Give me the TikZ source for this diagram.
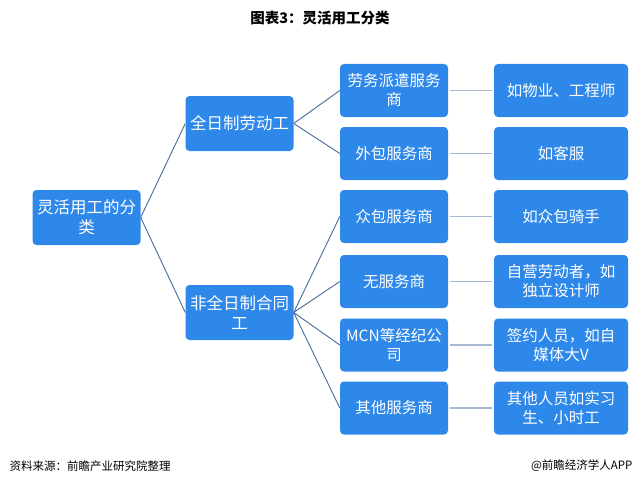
\documentclass[tikz,border=0pt]{standalone}
\usepackage{fontspec}
\setmainfont{Noto Sans CJK SC}
\definecolor{boxblue}{HTML}{2E88EA}
\definecolor{linedark}{HTML}{4A6A9A}
\definecolor{linelight}{HTML}{A8B8D0}
\tikzset{
  bx/.style={draw=none,fill=boxblue,rounded corners=4pt,text=white,align=center,font=\fontsize{15.5}{19}\selectfont,inner sep=2pt},
  b1/.style={bx,minimum width=107pt,minimum height=55pt,text width=104pt,font=\fontsize{16.5}{20}\selectfont},
  b3/.style={bx,minimum width=108pt,minimum height=53pt,text width=104pt},
  b4/.style={bx,minimum width=134pt,minimum height=53pt,text width=128pt},
  ln/.style={draw=linedark,line width=0.9pt},
  lnl/.style={draw=linelight,line width=1.5pt}
}
\begin{document}
\begin{tikzpicture}[x=1pt,y=-1pt]
\useasboundingbox[fill=white] (0,0) rectangle (640,487);
\node[font=\bfseries\fontsize{14.5}{16}\selectfont] (title) at (320,18) {图表3：灵活用工分类};
\node[b1] (root) at (86.5,217.5) {灵活用工的分\\类};
\node[b1] (a) at (239.5,123.5) {全日制劳动工};
\node[b1] (b) at (239.5,312.5) {非全日制合同\\工};
\node[b3] (c1) at (394,90.5) {劳务派遣服务\\商};
\node[b3] (c2) at (394,153.5) {外包服务商};
\node[b3] (c3) at (394,216.5) {众包服务商};
\node[b3] (c4) at (394,281.5) {无服务商};
\node[b3] (c5) at (394,345) {MCN等经纪公\\司};
\node[b3] (c6) at (394,408) {其他服务商};
\node[b4] (d1) at (561,90.5) {如物业、工程师};
\node[b4] (d2) at (561,153.5) {如客服};
\node[b4] (d3) at (561,216.5) {如众包骑手};
\node[b4] (d4) at (561,281.5) {自营劳动者，如\\独立设计师};
\node[b4] (d5) at (561,345) {签约人员，如自\\媒体大V};
\node[b4] (d6) at (561,408) {其他人员如实习\\生、小时工};
\draw[ln] (root.east) -- (a.west);
\draw[ln] (root.east) -- (b.west);
\foreach \c in {c1,c2} \draw[ln] (a.east) -- (\c.west);
\foreach \c in {c3,c4,c5,c6} \draw[ln] (b.east) -- (\c.west);
\foreach \i in {1,...,6} \draw[lnl] ([xshift=2pt]c\i.east) -- ([xshift=-2pt]d\i.west);
\node[anchor=west,font=\fontsize{11.5}{13}\selectfont] (src) at (6,466) {资料来源：前瞻产业研究院整理};
\node[anchor=east,font=\fontsize{11.5}{13}\selectfont] (brand) at (636,466) {@前瞻经济学人APP};
\end{tikzpicture}
\end{document}
